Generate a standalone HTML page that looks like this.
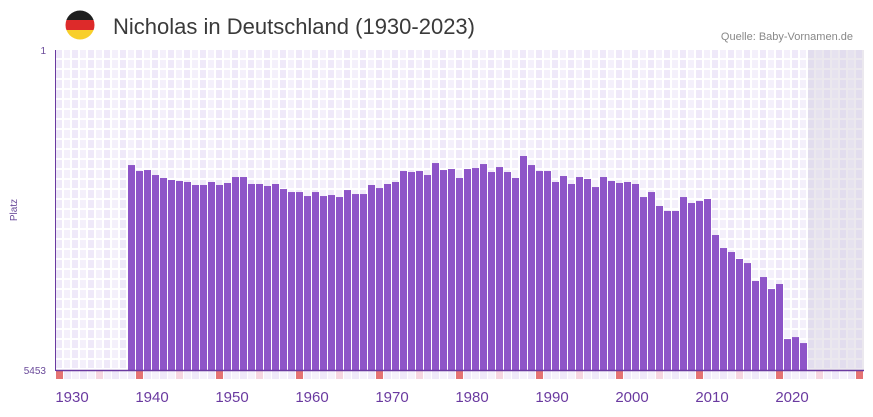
<!DOCTYPE html>
<html><head><meta charset="utf-8">
<style>
body{margin:0;background:#fff;width:873px;height:412px;overflow:hidden;font-family:"Liberation Sans",sans-serif;}
</style></head>
<body>
<svg id="chart" width="873" height="412" xmlns="http://www.w3.org/2000/svg">
<defs>
<pattern id="grid" x="56" y="50" width="16" height="10" patternUnits="userSpaceOnUse">
<rect width="16" height="10" fill="#fff"/>
<rect x="0" y="0" width="6" height="8" fill="#efe9f9"/>
<rect x="8" y="0" width="6" height="8" fill="#f4f0fb"/>
</pattern>
<pattern id="gridf" x="56" y="50" width="16" height="10" patternUnits="userSpaceOnUse">
<rect width="16" height="10" fill="#ebe8ee"/>
<rect x="0" y="0" width="6" height="8" fill="#e2ddee"/>
<rect x="8" y="0" width="6" height="8" fill="#e6e2ef"/>
</pattern>
<clipPath id="fc"><circle cx="80" cy="25" r="14.5"/></clipPath>
</defs>
<g clip-path="url(#fc)">
<rect x="65" y="10" width="30" height="10" fill="#1f1f1f"/>
<rect x="65" y="20" width="30" height="10" fill="#dd2a2a"/>
<rect x="65" y="30" width="30" height="10" fill="#f8cf2c"/>
</g>
<text x="113" y="34" font-size="22" fill="#3a3a3a" font-family="Liberation Sans, sans-serif">Nicholas in Deutschland (1930-2023)</text>
<text x="853" y="40" font-size="11" fill="#888" text-anchor="end">Quelle: Baby-Vornamen.de</text>
<rect x="56" y="50" width="808" height="320" fill="url(#grid)"/>
<rect x="808" y="50" width="56" height="320" fill="url(#gridf)"/>
<g id="bars"></g>
<g id="strip"></g>
<line x1="55.5" y1="50" x2="55.5" y2="371" stroke="#6a3aa0" stroke-width="1"/>
<line x1="56" y1="370.5" x2="864" y2="370.5" stroke="#6a3aa0" stroke-width="1.5"/>
<text x="46" y="54" font-size="10" fill="#6a4a9a" text-anchor="end">1</text>
<text x="46" y="374" font-size="10" fill="#6a4a9a" text-anchor="end">5453</text>
<text x="17" y="210" font-size="10" fill="#6a4a9a" text-anchor="middle" transform="rotate(-90 17 210)">Platz</text>
<g id="xlabels"></g>
</svg>
<script>
const years = [1939,1940,1941,1942,1943,1944,1945,1946,1947,1948,1949,1950,1951,1952,1953,1954,1955,1956,1957,1958,1959,1960,1961,1962,1963,1964,1965,1966,1967,1968,1969,1970,1971,1972,1973,1974,1975,1976,1977,1978,1979,1980,1981,1982,1983,1984,1985,1986,1987,1988,1989,1990,1991,1992,1993,1994,1995,1996,1997,1998,1999,2000,2001,2002,2003,2004,2005,2006,2007,2008,2009,2010,2011,2012,2013,2014,2015,2016,2017,2018,2019,2020,2021,2022,2023];
const ranks = [1961,2063,2046,2131,2182,2216,2233,2250,2301,2301,2250,2301,2267,2165,2165,2284,2284,2318,2284,2370,2421,2421,2489,2421,2489,2472,2506,2387,2455,2455,2301,2353,2284,2250,2063,2080,2063,2131,1927,2046,2029,2182,2029,2012,1944,2080,1995,2080,2182,1807,1961,2063,2063,2250,2148,2284,2165,2199,2336,2165,2233,2267,2250,2284,2506,2421,2659,2744,2744,2506,2608,2574,2540,3153,3375,3443,3562,3631,3937,3869,4074,3988,4926,4892,4994];
const xTicks = [1930,1940,1950,1960,1970,1980,1990,2000,2010,2020];
const startYear = 1930, maxRank = 5453;
const x0 = 56, colW = 8, yTop = 50, yBot = 370;
function xs(yr){return x0 + (yr-startYear)*colW;}
function ys(r){return yTop + (r-1)/(maxRank-1)*(yBot-yTop);}
const NS='http://www.w3.org/2000/svg';
const bars=document.getElementById('bars');
years.forEach((yr,i)=>{
  const r=document.createElementNS(NS,'rect');
  const y=ys(ranks[i]);
  r.setAttribute('x',xs(yr)); r.setAttribute('y',y);
  r.setAttribute('width',7); r.setAttribute('height',yBot-y);
  r.setAttribute('fill','#8e55c8');
  
  
  bars.appendChild(r);
});
const strip=document.getElementById('strip');
for(let yr=1930;yr<=2030;yr++){
  const r=document.createElementNS(NS,'rect');
  r.setAttribute('x',xs(yr)); r.setAttribute('y',371);
  r.setAttribute('width',7); r.setAttribute('height',8);
  let c = yr%10===0 ? '#e57373' : (yr%10===5 ? '#f6d6e0' : (yr%2 ? '#efe9f9':'#f5f1fb'));
  r.setAttribute('fill',c);
  
  
  strip.appendChild(r);
}
const xl=document.getElementById('xlabels');
xTicks.forEach(t=>{
  const tx=document.createElementNS(NS,'text');
  tx.setAttribute('x',xs(t)+16); tx.setAttribute('y',402);
  tx.setAttribute('font-size','15'); tx.setAttribute('fill','#6a3aa0');
  tx.setAttribute('text-anchor','middle');
  tx.textContent=t;
  
  
  xl.appendChild(tx);
});
</script>
</body></html>
